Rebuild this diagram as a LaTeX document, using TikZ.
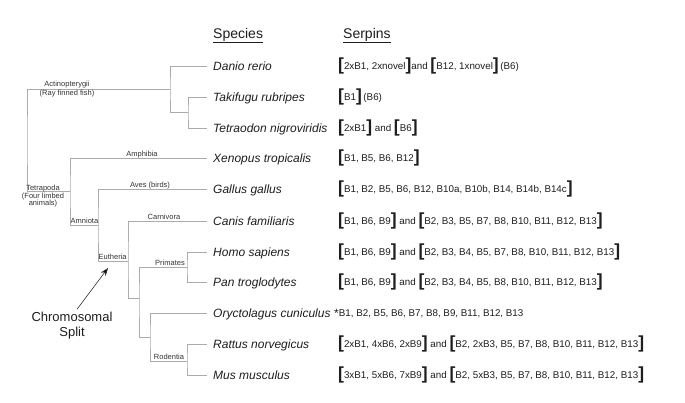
\documentclass[tikz,border=0pt]{standalone}
\usepackage{fontspec}
\setmainfont{Liberation Sans}
\usetikzlibrary{arrows.meta,calc}
\definecolor{treegray}{HTML}{ABABAB}
\definecolor{labgray}{HTML}{333333}
\definecolor{txt}{HTML}{1E1E1E}
\newcommand\lbk{{\fontsize{17.5}{17}\selectfont\bfseries\raisebox{-0.6pt}{[}}}
\newcommand\rbk{{\fontsize{17.5}{17}\selectfont\bfseries\raisebox{-0.6pt}{]}}}
\begin{document}
\begin{tikzpicture}[x=1pt,y=-1pt,
  tree/.style={draw=treegray,line width=0.8pt},
  sp/.style={anchor=base west,inner sep=0pt,text=txt,font=\fontsize{12}{14}\selectfont\itshape},
  sr/.style={anchor=base west,inner sep=0pt,text=txt,font=\fontsize{9.8}{11}\selectfont},
  hd/.style={anchor=base west,inner sep=0pt,text=txt,font=\fontsize{14}{16}\selectfont},
  lab/.style={inner sep=1pt,text=labgray,font=\fontsize{7.5}{9}\selectfont},
]
\useasboundingbox (0,0) rectangle (685,402);
\fill[white] (0,0) rectangle (685,402);

% leaf ends
\coordinate (L1) at (207,66);
\coordinate (L2) at (207,97);
\coordinate (L3) at (207,128);
\coordinate (L4) at (207,158.5);
\coordinate (L5) at (207,189.5);
\coordinate (L6) at (207,221);
\coordinate (L7) at (207,252);
\coordinate (L8) at (207,282);
\coordinate (L9) at (207,313);
\coordinate (L10) at (207,344);
\coordinate (L11) at (207,375);

% internal nodes
\coordinate (A) at (170,89);
\coordinate (FS) at (188,112.5);
\coordinate (R) at (27,140);
\coordinate (T) at (70,191.5);
\coordinate (Am) at (98,225);
\coordinate (E) at (128,261);
\coordinate (E2) at (139,298);
\coordinate (P) at (187,267);
\coordinate (G) at (150,337);
\coordinate (Ro) at (187,361);

% tree
\draw[tree] (L1) -| (A) |- (FS);
\draw[tree] (L2) -| (FS) |- (L3);
\draw[tree] (A) -| (R) |- (T);
\draw[tree] (L4) -| (T) |- (Am);
\draw[tree] (L5) -| (Am) |- (E);
\draw[tree] (L6) -| (E) |- (E2);
\draw[tree] (P) -| (E2) |- (G);
\draw[tree] (L7) -| (P) |- (L8);
\draw[tree] (L9) -| (G) |- (Ro);
\draw[tree] (L10) -| (Ro) |- (L11);

% tree labels
\node[lab,align=center] (lact) at (67,89) {Actinopterygii\\[0.5pt](Ray finned fish)};
\node[lab,align=center,inner sep=0pt,font=\fontsize{7.5}{7.5}\selectfont] (ltet) at (43,196.3) {Tetrapoda\\(Four limbed\\animals)};
\node[lab,anchor=south] (lamph) at (142,159) {Amphibia};
\node[lab,anchor=south] (laves) at (150,190) {Aves (birds)};
\node[lab,anchor=south west] (lamn) at (69.5,225) {Amniota};
\node[lab,anchor=south west] (leut) at (97.5,261) {Eutheria};
\node[lab,anchor=south] (lcarn) at (164,221) {Carnivora};
\node[lab,anchor=south] (lprim) at (170,267) {Primates};
\node[lab,anchor=south] (lrod) at (169,361) {Rodentia};

% headers
\node[hd] (hsp) at (213,38) {\underline{Species}};
\node[hd] (hse) at (343,38) {\underline{Serpins}};

% species
\node[sp] (s1) at ($(L1)+(6,4.3)$) {Danio rerio};
\node[sp] (s2) at ($(L2)+(6,4.3)$) {Takifugu rubripes};
\node[sp] (s3) at ($(L3)+(6,4.3)$) {Tetraodon nigroviridis};
\node[sp] (s4) at ($(L4)+(6,4.3)$) {Xenopus tropicalis};
\node[sp] (s5) at ($(L5)+(6,4.3)$) {Gallus gallus};
\node[sp] (s6) at ($(L6)+(6,4.3)$) {Canis familiaris};
\node[sp] (s7) at ($(L7)+(6,4.3)$) {Homo sapiens};
\node[sp] (s8) at ($(L8)+(6,4.3)$) {Pan troglodytes};
\node[sp] (s9) at ($(L9)+(6,4.3)$) {Oryctolagus cuniculus};
\node[sp] (s10) at ($(L10)+(6,4.3)$) {Rattus norvegicus};
\node[sp] (s11) at ($(L11)+(6,4.3)$) {Mus musculus};

% serpins
\node[sr] (r1) at (338,69.4) {\lbk2xB1, 2xnovel\rbk and \lbk B12, 1xnovel\rbk\,(B6)};
\node[sr] (r2) at (338,100.4) {\lbk B1\rbk\,(B6)};
\node[sr] (r3) at (338,131.4) {\lbk2xB1\rbk\ and \lbk B6\rbk};
\node[sr] (r4) at (338,161.9) {\lbk B1, B5, B6, B12\rbk};
\node[sr] (r5) at (338,192.9) {\lbk B1, B2, B5, B6, B12, B10a, B10b, B14, B14b, B14c\rbk};
\node[sr] (r6) at (338,224.4) {\lbk B1, B6, B9\rbk\ and \lbk B2, B3, B5, B7, B8, B10, B11, B12, B13\rbk};
\node[sr] (r7) at (338,255.4) {\lbk B1, B6, B9\rbk\ and \lbk B2, B3, B4, B5, B7, B8, B10, B11, B12, B13\rbk};
\node[sr] (r8) at (338,285.4) {\lbk B1, B6, B9\rbk\ and \lbk B2, B3, B4, B5, B8, B10, B11, B12, B13\rbk};
\node[sr] (r9) at (334,316.4) {{\fontsize{12}{12}\selectfont\raisebox{-1pt}{*}}B1, B2, B5, B6, B7, B8, B9, B11, B12, B13};
\node[sr] (r10) at (338,347.4) {\lbk2xB1, 4xB6, 2xB9\rbk\ and \lbk B2, 2xB3, B5, B7, B8, B10, B11, B12, B13\rbk};
\node[sr] (r11) at (338,378.4) {\lbk3xB1, 5xB6, 7xB9\rbk\ and \lbk B2, 5xB3, B5, B7, B8, B10, B11, B12, B13\rbk};

% chromosomal split
\node[align=center,inner sep=0pt,text=txt,font=\fontsize{13}{15}\selectfont] (cs) at (72,326) {Chromosomal\\Split};
\coordinate (tipc) at (108,268);
\draw[draw=labgray,line width=0.6pt,-{Stealth[length=8pt,width=6pt,fill=black]}] ([xshift=5pt,yshift=3pt]cs.north) -- (tipc);
\end{tikzpicture}
\end{document}
